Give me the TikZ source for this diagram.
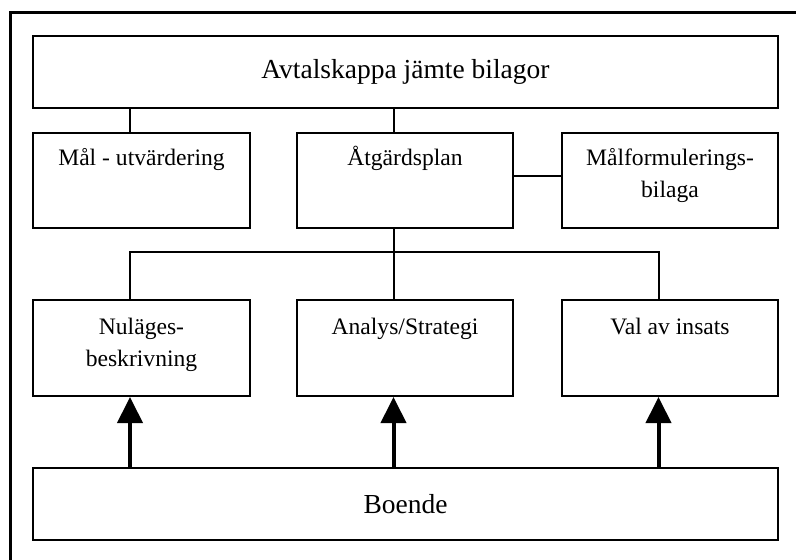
\documentclass[tikz,border=0pt]{standalone}
\usepackage{fontspec}
\setmainfont{Liberation Serif}
\usetikzlibrary{arrows.meta,calc}

\begin{document}
\begin{tikzpicture}[x=1pt,y=-1pt,
    box/.style={draw,line width=2pt,minimum width=216.5pt,minimum height=95pt,inner sep=0pt},
    wide/.style={draw,line width=2pt,minimum width=745pt,minimum height=72pt,inner sep=0pt,
      font=\fontsize{27.5}{33}\selectfont},
    txt/.style={anchor=north,align=center,inner sep=0pt,font=\fontsize{23.6}{32}\selectfont},
    link/.style={line width=2pt},
    push/.style={line width=4pt,-{Triangle[length=26pt,width=25pt]}}]
  \clip (0,0) rectangle (796,560);
  \def\off{11.5}

  % frame
  \draw[line width=3pt] (10,575) -- (10,12) -- (810,12);

  % boxes
  \node[wide] (avtal) at (405.5,72) {Avtalskappa jämte bilagor};
  \node[box] (maal) at (141.5,180.5) {};
  \node[box] (plan) at (405,180.5) {};
  \node[box] (malform) at (670,180.5) {};
  \node[box,minimum height=96pt] (nul) at (141.5,348) {};
  \node[box,minimum height=96pt] (analys) at (405,348) {};
  \node[box,minimum height=96pt] (val) at (670,348) {};
  \node[wide] (boende) at (405.5,504) {Boende};

  % texts
  \node[txt] at ($(maal.north)+(0,10.6)$) {\strut Mål - utvärdering};
  \node[txt] at ($(plan.north)+(0,10.6)$) {\strut Åtgärdsplan};
  \node[txt] at ($(malform.north)+(0,10.6)$) {\strut Målformulerings-\\bilaga};
  \node[txt] at ($(nul.north)+(0,12.6)$) {\strut Nuläges-\\beskrivning};
  \node[txt] at ($(analys.north)+(0,12.6)$) {\strut Analys/Strategi};
  \node[txt] at ($(val.north)+(0,12.6)$) {\strut Val av insats};

  % links
  \coordinate (bus) at (405,252);
  \draw[link] ([xshift=-\off]maal.north) -- ([xshift=-\off]maal.north |- avtal.south);
  \draw[link] ([xshift=-\off]plan.north) -- ([xshift=-\off]plan.north |- avtal.south);
  \draw[link] ([yshift=4.5]plan.east) -- ([yshift=4.5]plan.east -| malform.west);
  \draw[link] ([xshift=-\off]plan.south) -- ([xshift=-\off]analys.north);
  \draw[link] ([xshift=-\off]nul.north) |- (bus) -| ([xshift=-\off]val.north);

  % arrows
  \foreach \b in {nul,analys,val}
    \draw[push] ([xshift=-\off]\b.south |- boende.north) -- ([xshift=-\off]\b.south);
\end{tikzpicture}
\end{document}
